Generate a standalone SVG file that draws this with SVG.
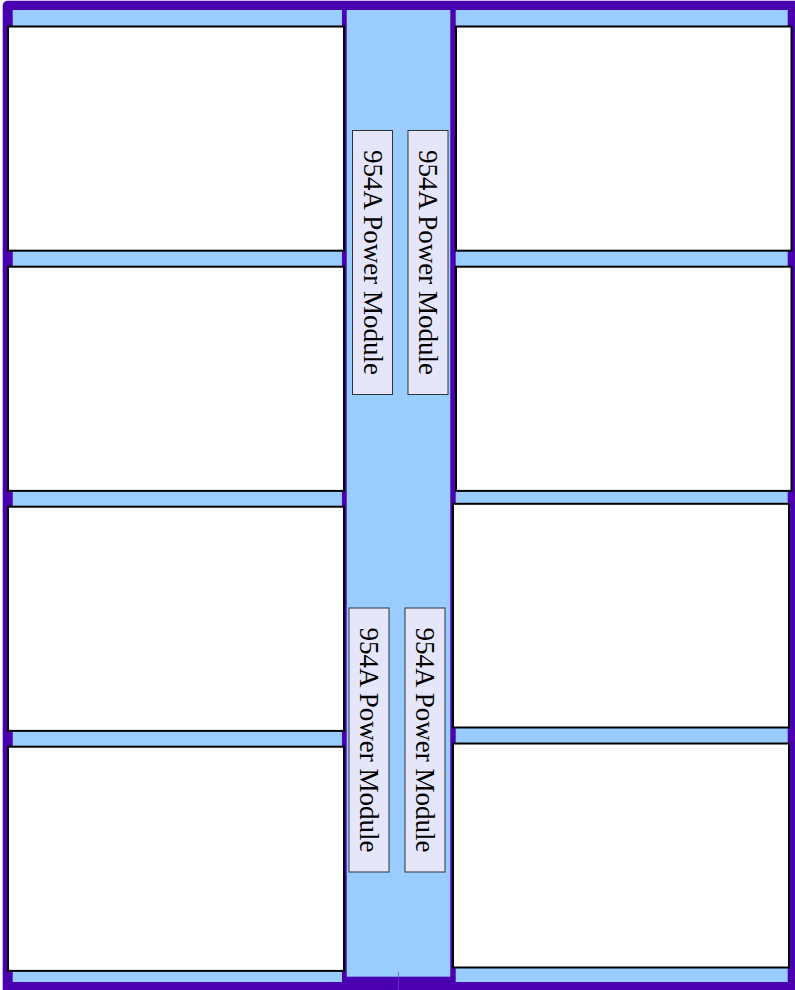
<svg xmlns="http://www.w3.org/2000/svg" width="795" height="990" viewBox="0 0 795 990">
<style>
.frame{fill:#4a00b0;}
.lane{fill:#99ccff;}
.box{fill:#ffffff;stroke:#000000;stroke-width:2;}
.pm{fill:#e6e6fa;stroke:#333333;stroke-width:1;}
.pmt{font-family:"Liberation Serif","Times New Roman",serif;font-size:27px;fill:#000000;text-anchor:middle;}
</style>
<rect width="795" height="990" fill="#ffffff"/>
<g id="frame">
  <rect class="frame" x="2.7" y="0.7" width="800" height="1000" rx="5"/>
  <rect class="lane" x="12.7" y="10" width="329.3" height="972"/>
  <rect class="frame" x="342" y="976.7" width="108.5" height="5" fill="#5000c0"/>
  <rect class="lane" x="346.7" y="10" width="103.6" height="966.7"/>
  <rect class="lane" x="455.7" y="10" width="332" height="972"/>
  <line x1="398.5" y1="972" x2="398.5" y2="990" stroke="#6a40d0" stroke-width="0.7"/>
</g>
<g id="left-column">
  <rect id="L1" class="box" x="8" y="26.5" width="336" height="224.2"/>
  <rect id="L2" class="box" x="8" y="266.7" width="336" height="224.2"/>
  <rect id="L3" class="box" x="8" y="506.7" width="336" height="224.2"/>
  <rect id="L4" class="box" x="8" y="746.7" width="336" height="224.2"/>
</g>
<g id="right-column">
  <rect id="R1" class="box" x="456" y="26.5" width="335.5" height="224.2"/>
  <rect id="R2" class="box" x="456" y="266.7" width="335.5" height="224.2"/>
  <rect id="R3" class="box" x="453" y="503.8" width="336" height="223.7"/>
  <rect id="R4" class="box" x="453" y="743.5" width="336" height="224"/>
</g>
<g id="pm1">
  <rect class="pm" x="352.5" y="130.5" width="40" height="264"/>
  <text class="pmt" x="372.5" y="271.5" transform="rotate(90 372.5 262.5)">954A Power Module</text>
</g>
<g id="pm2">
  <rect class="pm" x="408" y="130.5" width="40" height="264"/>
  <text class="pmt" x="428" y="271.5" transform="rotate(90 428 262.5)">954A Power Module</text>
</g>
<g id="pm3">
  <rect class="pm" x="349" y="608" width="40" height="264"/>
  <text class="pmt" x="369" y="749" transform="rotate(90 369 740)">954A Power Module</text>
</g>
<g id="pm4">
  <rect class="pm" x="405" y="608" width="40" height="264"/>
  <text class="pmt" x="425" y="749" transform="rotate(90 425 740)">954A Power Module</text>
</g>
<g id="connectors"></g>
</svg>
